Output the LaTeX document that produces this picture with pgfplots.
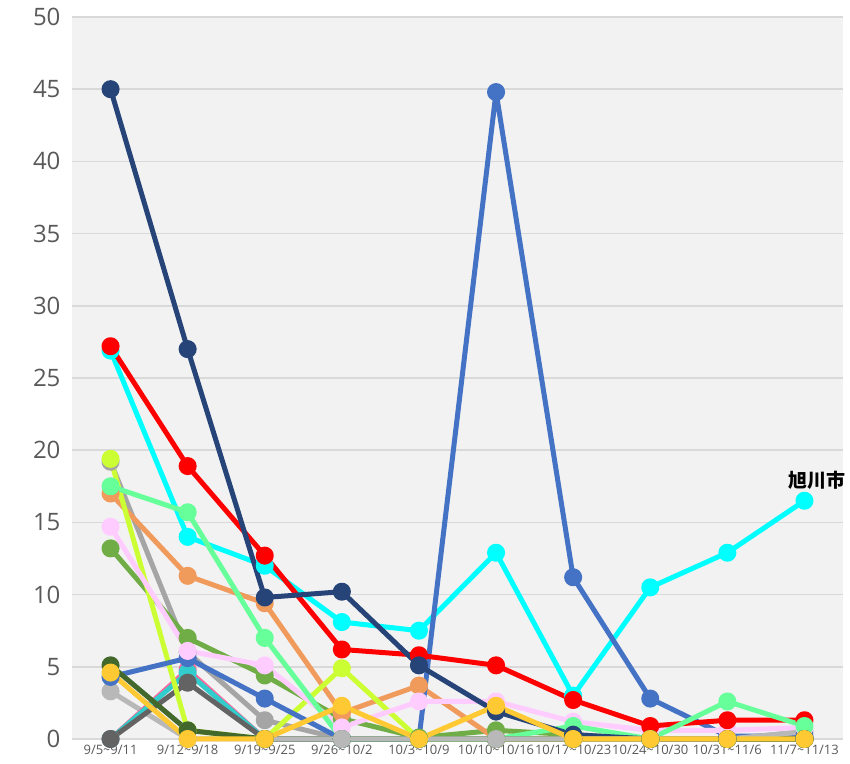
\documentclass[border=0pt]{standalone}
\usepackage{fontspec}
\setmainfont{Open Sans}
\newfontfamily\cjk{Noto Sans CJK JP}
\newcommand\tl{{\cjk\char"007E}}
\usepackage{pgfplots}
\pgfplotsset{compat=1.18}
\definecolor{cnavy}{HTML}{264478}
\definecolor{cred}{HTML}{FF0000}
\definecolor{ccyan}{HTML}{00FFFF}
\definecolor{cblue}{HTML}{4472C4}
\definecolor{cmint}{HTML}{66FF99}
\definecolor{clime}{HTML}{CCFF33}
\definecolor{cgray}{HTML}{A5A5A5}
\definecolor{corange}{HTML}{F09A5C}
\definecolor{cpink}{HTML}{FFCCFF}
\definecolor{colive}{HTML}{70AD47}
\definecolor{cdgreen}{HTML}{43682B}
\definecolor{cgold}{HTML}{FFC933}
\definecolor{cdgray}{HTML}{636363}
\definecolor{cteal}{HTML}{33CCCC}
\definecolor{chpink}{HTML}{FF6699}
\definecolor{clgray}{HTML}{B8B8B8}
\definecolor{bg}{HTML}{F2F2F2}
\definecolor{gridc}{HTML}{D9D9D9}
\definecolor{tickc}{HTML}{595959}
\begin{document}
\begin{tikzpicture}
\begin{axis}[
  scale only axis,
  width=771pt, height=722pt,
  xmin=-0.5, xmax=9.5, ymin=0, ymax=50,
  xtick={0,...,9},
  xticklabels={9/5\tl 9/11,9/12\tl 9/18,9/19\tl 9/25,9/26\tl 10/2,10/3\tl 10/9,10/10\tl 10/16,10/17\tl 10/23,10/24\tl 10/30,10/31\tl 11/6,11/7\tl 11/13},
  ytick={0,5,...,50},
  axis line style={draw=none},
  tick style={draw=none},
  ymajorgrids,
  major grid style={gridc, line width=1.5pt},
  axis background/.style={fill=bg},
  /pgf/number format/assume math mode=true,
  yticklabel style={font=\fontsize{24}{28}\selectfont, text=tickc, xshift=-8pt},
  xticklabel style={font=\fontsize{13}{15}\selectfont, text=tickc, yshift=-3pt},
  every axis plot/.append style={line width=5pt, mark=*, mark size=6.5pt, line join=round},
  clip=false,
]
\addplot[clgray, mark options={fill=clgray}] coordinates {(0,3.3)(1,0)(2,0)(3,0)(4,0)(5,0)(6,0)(7,0)(8,0)(9,0)};
\addplot[chpink, mark options={fill=chpink}] coordinates {(0,0)(1,4.8)(2,0)(3,0)(4,0)(5,0)(6,0)(7,0)(8,0)(9,0)};
\addplot[cteal, mark options={fill=cteal}] coordinates {(0,0)(1,4.6)(2,0)(3,0)(4,0)(5,0)(6,0)(7,0)(8,0)(9,0)};
\addplot[cdgray, mark options={fill=cdgray}] coordinates {(0,0)(1,3.9)(2,0)(3,0)(4,0)(5,0)(6,0)(7,0)(8,0)(9,0)};
\addplot[cgray, mark options={fill=cgray}] coordinates {(0,19.2)(1,6.0)(2,1.3)(3,0)(4,0)(5,0)(6,0)(7,0)(8,0)(9,0.5)};
\addplot[colive, mark options={fill=colive}] coordinates {(0,13.2)(1,7.0)(2,4.4)(3,1.4)(4,0.1)(5,0.6)(6,0.3)(7,0)(8,0)(9,0)};
\addplot[corange, mark options={fill=corange}] coordinates {(0,17.0)(1,11.3)(2,9.4)(3,1.8)(4,3.7)(5,0)(6,0)(7,0)(8,0)(9,0)};
\addplot[clime, mark options={fill=clime}] coordinates {(0,19.4)(1,0.6)(2,0)(3,4.9)(4,0)(5,0)(6,0)(7,0)(8,0)(9,0)};
\addplot[ccyan, mark options={fill=ccyan}] coordinates {(0,26.9)(1,14.0)(2,12.0)(3,8.1)(4,7.5)(5,12.9)(6,3.0)(7,10.5)(8,12.9)(9,16.5)};
\addplot[cblue, mark options={fill=cblue}] coordinates {(0,4.3)(1,5.6)(2,2.8)(3,0)(4,0)(5,44.8)(6,11.2)(7,2.8)(8,0.2)(9,0.2)};
\addplot[cpink, mark options={fill=cpink}] coordinates {(0,14.7)(1,6.1)(2,5.1)(3,0.8)(4,2.6)(5,2.6)(6,1.2)(7,0.6)(8,0.6)(9,0.8)};
\addplot[cred, mark options={fill=cred}] coordinates {(0,27.2)(1,18.9)(2,12.7)(3,6.2)(4,5.8)(5,5.1)(6,2.7)(7,0.9)(8,1.3)(9,1.3)};
\addplot[cmint, mark options={fill=cmint}] coordinates {(0,17.5)(1,15.7)(2,7.0)(3,0)(4,0)(5,0)(6,0.9)(7,0)(8,2.6)(9,0.9)};
\addplot[cnavy, mark options={fill=cnavy}] coordinates {(0,45.0)(1,27.0)(2,9.8)(3,10.2)(4,5.1)(5,1.9)(6,0.3)(7,0)(8,0)(9,0)};
\addplot[cdgreen, mark options={fill=cdgreen}] coordinates {(0,5.1)(1,0.6)(2,0)(3,0)(4,0)(5,0)(6,0)(7,0)(8,0)(9,0)};
\addplot[clgray, mark=none] coordinates {(2,0)(3,0)(4,0)(5,0)(6,0)(7,0)(8,0)(9,0.5)};
\addplot[clgray, only marks, mark options={fill=clgray}] coordinates {(3,0)(5,0)};
\addplot[cgold, mark options={fill=cgold}] coordinates {(0,4.6)(1,0)(2,0)(3,2.3)(4,0)(5,2.3)(6,0)(7,0)(8,0)(9,0)};
\node[anchor=south, font=\cjk\bfseries\fontsize{19}{22}\selectfont, xshift=13pt, yshift=8pt] at (axis cs:9,16.5) {旭川市};
\end{axis}
\useasboundingbox ([shift={(-72pt,-25pt)}]current axis.south west) rectangle ([shift={(7pt,17pt)}]current axis.north east);
\end{tikzpicture}
\end{document}
